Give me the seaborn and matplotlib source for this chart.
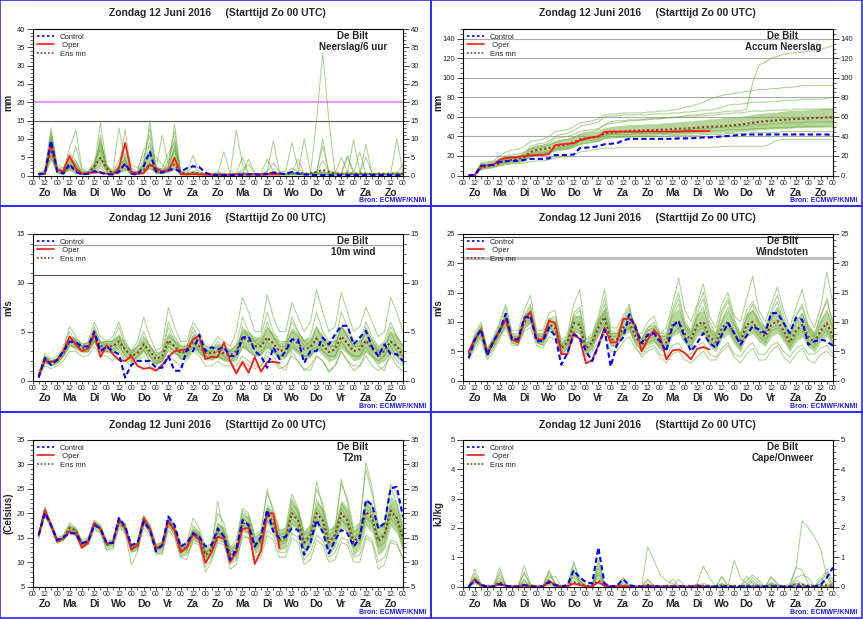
import pandas as pd
import matplotlib
matplotlib.use('Agg')
import matplotlib.pyplot as plt
import seaborn as sns
from matplotlib.lines import Line2D
from matplotlib.patches import Rectangle
from matplotlib.ticker import MultipleLocator

sns.set_theme(style='ticks')
plt.rcParams['font.family'] = ['Liberation Sans', 'DejaVu Sans']

# time axis: 6-hourly steps from +6h to +360h (15 days)
hours = list(range(6, 361, 6))
oper_hours = hours[:40]
hour_labels = ['00', '12'] * 15 + ['00']
day_names = ['Zo', 'Ma', 'Di', 'Wo', 'Do', 'Vr', 'Za', 'Zo', 'Ma', 'Di', 'Wo', 'Do', 'Vr', 'Za', 'Zo']
title = 'Zondag 12 Juni 2016     (Starttijd Zo 00 UTC)'

# ---------------- Neerslag / 6 uur (mm) ----------------
prec_control = [
    0.3, 0.5, 9.5, 1.0,  0.5, 3.2, 1.0, 0.3,  0.5, 1.2, 0.8, 0.3,  0.3, 1.0, 3.3, 0.5,  0.2, 2.5, 6.5, 1.0,
    0.8, 1.5, 1.8, 1.0,  2.0, 2.5, 2.3, 0.8,  0.2, 0.1, 0.1, 0.1,  0.2, 0.2, 0.3, 0.3,  0.2, 0.4, 0.8, 0.6,
    0.3, 1.0, 0.5, 0.3,  0.2, 0.1, 0.1, 0.1,  0.1, 0.1, 0.1, 0.1,  0.1, 0.1, 0.1, 0.1,  0.1, 0.1, 0.1, 0.1]
prec_oper = [
    0.5, 0.5, 8.5, 1.5,  1.2, 5.3, 2.0, 0.5,  0.7, 0.8, 0.9, 0.5,  0.3, 2.0, 8.9, 1.0,  0.5, 0.6, 3.0, 2.0,
    1.2, 1.2, 4.8, 0.3,  0.3, 0.4, 0.3, 0.3,  0.2, 0.2, 0.2, 0.2,  0.3, 0.3, 0.3, 0.3,  0.3, 0.3, 0.3, 0.3]
prec_ensmn = [
    0.3, 0.5, 7.0, 1.5,  1.0, 2.5, 1.5, 0.4,  0.6, 2.5, 4.8, 2.0,  0.5, 1.5, 2.8, 0.8,  0.5, 1.5, 3.0, 1.2,
    1.0, 1.5, 3.0, 0.8,  0.5, 0.7, 0.6, 0.4,  0.3, 0.3, 0.3, 0.3,  0.4, 0.4, 0.4, 0.4,  0.3, 0.5, 0.8, 0.5,
    0.4, 0.8, 0.7, 0.5,  0.6, 1.0, 1.5, 1.0,  0.6, 0.5, 0.5, 0.5,  0.5, 0.5, 0.4, 0.5,  0.5, 0.5, 0.5, 0.5]
prec_core_lo = [
    0.2, 0.3, 4.0, 0.8,  0.5, 1.5, 0.8, 0.2,  0.3, 1.2, 2.5, 0.8,  0.3, 0.8, 1.5, 0.4,  0.3, 0.8, 1.8, 0.6,
    0.5, 0.8, 1.5, 0.3,  0.1, 0.1, 0.1, 0.1,  0.1, 0.1, 0.1, 0.1,  0.1, 0.1, 0.1, 0.1,  0.1, 0.1, 0.1, 0.1,
    0.1, 0.1, 0.1, 0.1,  0.1, 0.1, 0.1, 0.1,  0.1, 0.1, 0.1, 0.1,  0.1, 0.1, 0.1, 0.1,  0.1, 0.1, 0.1, 0.1]
prec_core_hi = [
    0.5, 1.0, 11.5, 2.5,  1.5, 5.0, 4.0, 0.8,  0.8, 3.5, 9.5, 3.0,  0.8, 3.0, 5.5, 1.5,  1.0, 4.0, 7.5, 2.5,
    2.0, 3.0, 9.0, 1.2,  0.5, 1.5, 0.8, 0.5,  0.4, 0.6, 0.6, 0.4,  0.6, 0.8, 0.8, 0.6,  0.6, 0.8, 1.0, 0.7,
    0.6, 1.0, 0.9, 0.7,  0.8, 1.0, 1.2, 0.9,  0.8, 0.8, 0.8, 0.8,  0.8, 0.9, 0.8, 0.8,  0.8, 0.8, 0.9, 0.8]
prec_members = [
    [0.5, 1.0, 13.0, 2.0,  1.0, 4.0, 3.0, 0.5,  0.5, 2.0, 14.5, 3.0,  0.5, 1.0, 5.0, 1.0,  0.5, 3.0, 15.0, 2.0,
     1.0, 2.0, 14.0, 1.0,  0.5, 1.0, 0.5, 0.2,  0.2, 0.5, 0.3, 0.2,  12.5, 3.0, 0.5, 0.3,  0.2, 0.5, 0.5, 0.3,
     0.3, 0.5, 0.4, 0.2,  0.3, 0.8, 0.5, 0.3,  0.2, 0.5, 0.8, 0.3,  0.3, 0.5, 0.5, 0.3,  0.2, 0.3, 0.5, 0.3],
    [0.3, 0.8, 10.0, 1.5,  1.5, 7.5, 12.5, 2.0,  1.0, 3.0, 8.0, 2.0,  1.0, 13.0, 4.0, 1.0,  0.5, 2.0, 9.0, 2.0,
     11.0, 3.0, 7.0, 1.0,  1.0, 5.5, 1.0, 0.5,  0.3, 0.5, 6.5, 0.5,  0.3, 0.5, 0.5, 0.3,  0.5, 1.0, 9.5, 1.0,
     0.5, 0.5, 0.5, 10.0,  1.0, 0.5, 0.5, 0.5,  0.3, 0.5, 0.5, 9.8,  1.0, 0.5, 0.5, 0.3,  0.3, 0.5, 10.0, 1.0],
    [0.5, 1.5, 8.0, 1.0,  0.5, 3.0, 2.0, 1.0,  0.5, 1.0, 11.0, 1.5,  0.5, 2.0, 12.5, 1.0,  1.0, 4.0, 6.0, 0.5,
     0.5, 3.0, 10.0, 1.0,  0.3, 0.5, 0.3, 0.2,  0.2, 0.3, 0.3, 0.2,  0.3, 0.5, 4.5, 0.5,  0.3, 0.5, 0.5, 0.3,
     0.5, 0.5, 0.5, 0.5,  0.5, 15.0, 33.5, 15.0,  0.5, 0.5, 5.0, 0.5,  0.5, 5.0, 0.5, 0.5,  0.3, 0.5, 0.5, 0.5],
    [1.0, 0.5, 6.0, 1.0,  1.0, 2.0, 8.0, 1.5,  1.0, 4.0, 7.0, 2.0,  1.0, 2.5, 6.0, 3.0,  2.0, 5.0, 11.0, 2.0,
     2.0, 6.0, 9.0, 0.5,  0.5, 1.0, 0.5, 0.3,  0.5, 1.0, 0.5, 0.3,  0.5, 5.0, 0.5, 0.5,  0.5, 1.0, 3.5, 1.0,
     1.0, 9.0, 2.0, 0.5,  0.5, 1.0, 8.0, 1.0,  1.0, 0.5, 5.5, 1.0,  0.5, 8.5, 0.5, 0.5,  0.5, 0.5, 0.5, 3.0],
    [0.3, 0.5, 5.0, 0.5,  0.5, 2.0, 1.0, 0.3,  0.3, 1.5, 5.0, 1.0,  0.5, 1.0, 2.0, 0.5,  0.3, 1.0, 4.0, 5.0,
     3.0, 1.0, 5.0, 0.5,  0.2, 0.3, 0.2, 0.1,  0.1, 0.2, 0.2, 0.1,  0.2, 0.3, 0.3, 0.2,  0.2, 0.3, 0.5, 0.3,
     0.2, 0.5, 0.5, 0.3,  0.3, 0.5, 10.0, 0.5,  0.3, 0.5, 0.3, 0.3,  0.3, 0.3, 0.3, 0.3,  0.2, 0.3, 0.3, 0.3],
    [0.3, 1.0, 11.0, 2.0,  2.0, 5.0, 3.0, 1.0,  0.5, 3.0, 9.0, 3.0,  1.0, 4.0, 8.0, 2.0,  1.0, 3.0, 13.0, 1.5,
     1.0, 4.0, 12.0, 1.0,  0.5, 3.0, 0.5, 0.3,  0.3, 0.5, 0.3, 0.3,  0.3, 1.0, 0.5, 0.3,  0.3, 0.5, 1.0, 0.5,
     0.5, 1.0, 4.5, 0.5,  0.5, 0.5, 1.0, 0.5,  0.5, 0.5, 0.5, 0.5,  0.5, 0.5, 0.5, 0.5,  0.5, 0.5, 0.5, 0.5],
    [0.5, 0.5, 9.0, 1.0,  1.0, 1.5, 0.5, 0.3,  0.3, 0.5, 2.0, 0.5,  0.3, 0.5, 1.5, 0.5,  0.5, 1.0, 2.0, 1.0,
     0.5, 1.0, 2.0, 0.3,  0.2, 0.3, 0.2, 0.2,  0.2, 0.2, 0.2, 0.2,  0.2, 0.2, 0.5, 0.2,  0.2, 0.3, 0.3, 0.2,
     0.2, 0.3, 0.3, 0.2,  0.2, 0.3, 0.3, 0.2,  0.2, 0.3, 0.3, 0.2,  0.2, 0.3, 0.3, 0.2,  0.2, 0.2, 0.2, 0.2],
    [0.5, 0.5, 12.0, 3.0,  2.0, 6.0, 4.0, 1.0,  1.0, 2.5, 10.0, 2.5,  0.5, 3.0, 4.0, 1.0,  1.0, 7.0, 8.0, 1.0,
     1.5, 2.0, 8.0, 0.5,  0.3, 0.5, 0.3, 0.3,  0.3, 0.5, 0.5, 0.3,  0.5, 1.5, 3.0, 0.5,  0.5, 4.5, 1.0, 0.5,
     0.5, 2.0, 1.0, 0.5,  0.5, 1.0, 4.0, 1.0,  0.5, 5.0, 1.0, 0.5,  6.5, 0.5, 0.5, 0.5,  0.5, 0.5, 1.0, 0.5],
]

# ---------------- Accumulated precipitation (mm) ----------------
acc_control = [
    0, 0.5, 10, 10.5,  11, 14, 14.5, 15,  15, 16, 17, 17,  17, 17.5, 21, 21,  21, 21.5, 28, 28.5,
    29, 30, 32, 32.5,  33, 36, 37.5, 37.5,  37.5, 37.5, 37.5, 37.5,  37.5, 37.5, 38, 38,  38, 38.5, 39, 39,
    39.5, 40, 40.5, 41,  41.5, 42, 42, 42,  42, 42, 42, 42,  42, 42, 42, 42,  42, 42, 42, 41.5]
acc_oper = [
    0, 0.5, 9, 10.5,  11, 16, 18, 18.5,  19, 20, 20.5, 21,  21, 22, 31, 32,  32.5, 33, 36, 38,
    39, 40, 44.5, 45,  45, 45, 45, 45,  45, 45, 45, 45,  45, 45, 45, 45.5,  45.5, 45.5, 45.5, 45.5]
acc_ensmn = [
    0, 0.5, 8, 9.5,  10.5, 13, 15, 16,  17, 19, 24, 26,  27, 28, 30, 31,  32, 34, 37, 38,
    39, 40, 43, 44,  44.5, 45, 45.5, 46,  46, 46.5, 46.5, 47,  47, 47.5, 48, 48,  48.5, 49, 49.5, 50,
    50, 50.5, 51, 51.5,  52, 53, 54, 55,  55.5, 56, 56.5, 57,  57.5, 58, 58, 58.5,  59, 59, 59.5, 59.5]
acc_core_lo = [
    0, 0.4, 6.5, 7.5,  8.5, 10.5, 12, 13,  13.5, 15, 19, 21,  22, 23, 25, 26,  27, 29, 32, 33,
    34, 35, 38, 39,  39, 40, 40, 40.5,  40.5, 41, 41, 41.5,  41.5, 42, 42, 42.5,  42.5, 43, 43, 43.5,
    43.5, 44, 44, 44.5,  45, 45.5, 46, 47,  47, 47.5, 48, 48,  48.5, 49, 49, 49.5,  49.5, 49.5, 50, 50]
acc_core_hi = [
    0, 0.8, 10, 11.5,  12.5, 16, 18, 19,  20, 23, 29, 31,  32, 33, 36, 37,  38, 40, 43, 44,
    45, 46, 49, 50,  51, 51.5, 52, 52.5,  52.5, 53, 53, 53.5,  54, 54.5, 55, 55.5,  56, 56.5, 57, 58,
    58, 59, 59.5, 60,  60.5, 61.5, 62.5, 63.5,  64, 64.5, 65, 66,  66.5, 67, 67, 67.5,  68, 68.5, 69, 69]
acc_members = [
    [0, 1, 12, 13,  14, 17, 20, 21,  22, 24, 28, 30,  31, 33, 38, 39,  40, 42, 45, 46,
     47, 48, 52, 53,  54, 55, 56, 56,  57, 57, 58, 58,  59, 60, 60, 61,  62, 62, 63, 64,
     64, 65, 66, 66,  66, 68, 95, 113,  116, 120, 122, 124,  125, 126, 126, 127,  128, 129, 131, 133],
    [0, 1, 13, 14,  15, 20, 24, 26,  27, 30, 35, 36,  37, 40, 45, 46,  47, 50, 54, 55,
     56, 58, 62, 63,  63, 64, 64, 64,  64, 65, 65, 66,  66, 67, 68, 70,  71, 73, 75, 78,
     80, 82, 83, 84,  85, 86, 87, 88,  88, 89, 89, 90,  90, 91, 92, 92,  92, 92, 92, 92],
    [0, 0.5, 6, 7,  8, 10, 11, 12,  12, 13, 14, 15,  15, 16, 18, 19,  19, 21, 24, 25,
     26, 27, 28, 28,  28, 29, 29, 29,  29, 29, 29, 29,  29, 29, 29, 29,  29, 29, 29, 29,
     29, 29.5, 30, 30,  30, 30, 30, 30,  30, 33, 36, 37,  37, 37, 37, 37,  37, 37, 37, 37],
    [0, 1, 11, 12,  13, 16, 18, 19,  20, 23, 30, 32,  33, 35, 40, 42,  43, 46, 50, 52,
     53, 55, 60, 61,  61, 62, 62, 62,  62, 62, 63, 63,  63, 64, 64, 65,  65, 66, 67, 67,
     68, 70, 72, 73,  73, 74, 75, 75,  75, 76, 76, 77,  77, 77, 78, 78,  78, 78, 79, 80],
    [0, 0.5, 9, 10,  11, 14, 16, 17,  17, 18, 22, 24,  24, 25, 28, 29,  30, 32, 36, 37,
     38, 39, 42, 43,  43, 44, 44, 44,  44, 45, 45, 45,  45, 46, 46, 47,  47, 48, 48, 48,
     49, 49, 50, 50,  50, 51, 52, 52,  52, 53, 53, 54,  54, 54, 54, 55,  55, 55, 55, 55],
    [0, 0.5, 7, 8,  9, 11, 12, 13,  13, 15, 20, 22,  23, 24, 26, 27,  27, 29, 32, 33,
     34, 35, 38, 38,  39, 39, 39, 40,  40, 40, 40, 40,  40, 41, 41, 41,  41, 41, 42, 42,
     42, 42, 43, 43,  43, 43, 44, 44,  44, 44, 44, 45,  45, 45, 45, 45,  45, 45, 45, 45],
    [0, 1, 10, 11,  12, 15, 17, 18,  19, 22, 27, 28,  29, 31, 34, 36,  37, 39, 42, 44,
     45, 47, 52, 55,  56, 56, 57, 57,  57, 58, 58, 58,  59, 59, 60, 60,  60, 61, 61, 62,
     62, 63, 63, 64,  64, 65, 66, 66,  66, 67, 67, 67,  67, 68, 68, 68,  68, 68, 68, 68],
    [0, 0.5, 8, 9,  10, 12, 14, 15,  15, 17, 21, 22,  22, 23, 27, 28,  28, 31, 35, 36,
     36, 37, 41, 42,  42, 42, 42, 43,  43, 43, 43, 43,  43, 44, 44, 44,  44, 45, 45, 46,
     46, 46, 47, 47,  47, 47, 48, 48,  48, 49, 49, 49,  49, 50, 50, 50,  50, 50, 50, 50],
]

# ---------------- 10m wind (m/s) ----------------
wind_control = [
    0.3, 2.3, 1.6, 2.1,  3.0, 4.0, 3.9, 3.5,  3.5, 5.0, 3.0, 3.5,  3.0, 2.7, 0.3, 1.6,  2.0, 2.0, 2.0, 1.3,
    1.3, 2.5, 1.0, 1.0,  3.2, 3.0, 4.7, 3.0,  3.4, 3.2, 3.4, 2.5,  2.5, 4.4, 4.5, 3.0,  2.5, 1.3, 3.4, 2.2,
    3.0, 4.2, 4.2, 1.8,  3.0, 3.0, 4.4, 3.7,  4.7, 5.6, 5.6, 3.7,  4.4, 5.1, 3.4, 2.5,  3.7, 2.7, 2.7, 2.0]
wind_oper = [
    0.5, 2.0, 1.9, 2.1,  3.0, 4.5, 3.7, 3.0,  3.3, 4.8, 2.4, 3.6,  2.7, 2.1, 2.0, 2.5,  1.5, 1.2, 1.3, 1.0,
    1.6, 2.4, 3.0, 3.1,  3.2, 4.2, 4.6, 2.2,  2.4, 2.4, 3.9, 2.0,  0.7, 1.9, 0.8, 2.4,  0.9, 1.9, 1.9, 1.8]
wind_ensmn = [
    0.5, 2.2, 1.8, 2.1,  2.8, 4.0, 3.8, 3.3,  3.4, 4.6, 3.5, 3.5,  3.5, 4.0, 3.2, 2.5,  2.8, 3.7, 3.0, 2.2,
    2.5, 4.1, 3.5, 2.8,  3.0, 4.0, 3.5, 2.8,  2.8, 3.0, 2.8, 2.6,  3.0, 4.4, 4.0, 3.5,  3.5, 4.4, 3.8, 3.0,
    3.2, 4.3, 3.8, 3.2,  3.4, 4.3, 3.6, 2.9,  3.2, 4.5, 3.8, 3.0,  3.2, 4.1, 3.3, 2.6,  3.0, 4.0, 3.5, 2.5]
wind_core_lo = [
    0.4, 1.8, 1.5, 1.8,  2.4, 3.5, 3.3, 2.8,  2.9, 3.9, 2.9, 2.9,  2.8, 3.3, 2.5, 1.9,  2.2, 3.0, 2.3, 1.6,
    1.9, 3.2, 2.8, 2.1,  2.3, 3.2, 2.7, 2.1,  2.1, 2.3, 2.1, 1.9,  2.2, 3.4, 3.0, 2.5,  2.6, 3.3, 2.8, 2.1,
    2.3, 3.2, 2.7, 2.2,  2.4, 3.2, 2.6, 1.9,  2.2, 3.3, 2.7, 2.0,  2.2, 3.0, 2.3, 1.7,  2.0, 2.9, 2.4, 1.6]
wind_core_hi = [
    0.6, 2.6, 2.1, 2.4,  3.2, 4.6, 4.3, 3.8,  3.9, 5.3, 4.1, 4.1,  4.2, 4.8, 3.9, 3.1,  3.4, 4.5, 3.7, 2.8,
    3.1, 5.0, 4.3, 3.5,  3.7, 4.8, 4.3, 3.5,  3.5, 3.8, 3.5, 3.3,  3.8, 5.4, 5.0, 4.5,  4.4, 5.5, 4.8, 3.9,
    4.1, 5.4, 4.9, 4.2,  4.4, 5.4, 4.6, 3.9,  4.2, 5.7, 4.9, 4.0,  4.2, 5.2, 4.3, 3.5,  4.0, 5.1, 4.6, 3.4]
wind_members = [
    [0.8, 2.5, 2.0, 2.3,  3.5, 5.0, 4.0, 3.5,  3.5, 5.5, 4.0, 3.5,  4.0, 5.5, 3.5, 3.0,  3.5, 5.0, 3.5, 2.5,
     3.0, 6.0, 4.5, 3.5,  3.5, 5.5, 4.0, 3.0,  3.0, 4.0, 3.0, 3.0,  3.5, 6.5, 5.0, 4.0,  4.5, 7.0, 5.0, 4.0,
     4.0, 6.0, 5.0, 4.0,  4.5, 7.0, 5.0, 4.0,  4.0, 7.0, 5.5, 4.0,  4.0, 6.0, 4.5, 3.5,  4.0, 6.0, 4.5, 3.5],
    [0.3, 1.5, 1.2, 1.5,  2.0, 3.0, 3.0, 2.5,  2.5, 3.5, 2.5, 2.5,  2.0, 3.0, 2.0, 1.5,  2.0, 2.5, 1.5, 1.0,
     1.5, 2.5, 2.0, 1.5,  2.0, 3.0, 2.5, 1.5,  1.5, 2.0, 1.5, 1.5,  1.5, 2.5, 2.0, 1.5,  1.5, 2.5, 2.0, 1.2,
     1.5, 2.5, 2.0, 1.0,  1.5, 2.5, 2.0, 1.0,  1.5, 3.0, 2.0, 1.0,  1.5, 2.5, 1.5, 1.0,  1.5, 2.5, 1.5, 1.0],
    [0.5, 2.8, 2.2, 2.5,  3.0, 5.5, 4.5, 3.5,  4.0, 6.0, 4.5, 4.0,  4.5, 6.0, 4.0, 3.0,  4.0, 6.5, 4.5, 3.0,
     3.5, 7.5, 5.5, 4.0,  4.0, 6.0, 5.0, 3.5,  3.5, 4.5, 4.0, 3.5,  5.0, 8.5, 7.0, 5.0,  5.0, 8.8, 6.5, 5.0,
     5.0, 8.0, 6.5, 5.0,  6.0, 9.3, 7.0, 5.0,  5.5, 9.0, 7.0, 5.0,  5.5, 7.5, 6.0, 4.5,  5.0, 8.5, 7.0, 5.0],
    [0.4, 2.0, 1.5, 1.8,  2.5, 3.5, 3.5, 3.0,  3.0, 4.0, 3.0, 3.0,  3.0, 3.5, 2.5, 2.0,  2.5, 3.0, 2.0, 1.8,
     2.0, 3.5, 3.0, 2.2,  2.5, 4.0, 3.0, 2.2,  2.5, 2.5, 2.0, 2.0,  2.0, 3.5, 3.0, 2.5,  3.0, 3.5, 3.0, 2.5,
     2.5, 3.5, 3.0, 2.5,  2.5, 3.5, 3.0, 2.5,  2.5, 4.0, 3.0, 2.5,  2.5, 3.5, 2.5, 2.0,  2.5, 3.5, 2.5, 2.0],
    [0.6, 2.3, 1.8, 2.0,  3.0, 4.5, 4.0, 3.0,  3.0, 4.5, 3.5, 3.8,  3.5, 4.5, 3.0, 2.8,  3.5, 4.0, 2.5, 1.5,
     2.5, 5.5, 4.0, 3.0,  3.0, 4.5, 3.5, 2.5,  2.5, 3.0, 2.5, 2.5,  2.5, 5.5, 4.5, 3.5,  4.0, 6.0, 4.5, 3.5,
     3.5, 5.0, 4.5, 3.5,  4.0, 5.5, 4.0, 3.5,  3.5, 5.5, 4.5, 3.5,  3.5, 5.0, 3.5, 3.0,  3.0, 5.0, 3.5, 3.0],
    [0.4, 1.8, 1.5, 1.8,  2.5, 4.0, 3.5, 3.0,  3.2, 4.2, 3.0, 3.2,  3.2, 3.8, 2.5, 2.2,  3.0, 3.5, 2.5, 2.0,
     2.2, 3.8, 3.5, 2.8,  2.8, 3.8, 3.2, 2.8,  2.8, 3.0, 2.5, 2.0,  1.0, 2.0, 1.5, 1.2,  1.5, 3.0, 2.5, 1.5,
     1.0, 3.0, 2.0, 1.2,  1.0, 2.5, 2.0, 0.8,  1.5, 3.0, 2.0, 1.5,  1.5, 3.0, 2.5, 1.5,  1.0, 3.0, 2.0, 1.5],
    [0.5, 2.5, 2.0, 2.2,  3.2, 4.5, 4.2, 3.8,  3.8, 5.2, 3.8, 4.0,  4.0, 4.5, 3.0, 2.5,  3.5, 4.5, 3.5, 2.8,
     3.0, 4.5, 4.0, 3.5,  3.5, 5.0, 4.0, 3.0,  3.0, 3.5, 3.2, 3.0,  3.0, 5.0, 4.5, 4.0,  3.5, 5.5, 4.5, 3.5,
     3.5, 6.5, 5.0, 4.0,  3.5, 5.5, 4.5, 3.5,  3.5, 5.5, 4.5, 3.5,  3.5, 5.5, 4.0, 3.0,  3.5, 5.5, 4.5, 3.5],
    [0.3, 2.0, 1.8, 2.0,  2.8, 3.8, 3.2, 3.0,  3.0, 4.0, 2.8, 3.0,  2.8, 3.2, 2.2, 1.8,  2.5, 3.2, 2.0, 1.8,
     2.0, 3.0, 2.8, 2.5,  2.5, 3.5, 3.0, 2.5,  2.2, 2.5, 2.2, 2.0,  2.5, 4.0, 3.0, 2.5,  2.5, 4.0, 3.0, 2.5,
     2.5, 4.0, 3.0, 2.5,  2.5, 4.5, 3.0, 2.5,  2.5, 4.0, 3.0, 2.5,  2.5, 4.0, 3.0, 2.5,  2.5, 4.0, 3.0, 2.5],
]

# ---------------- Windstoten (m/s) ----------------
gust_control = [
    3.8, 7.0, 8.7, 4.3,  6.7, 8.4, 11.4, 7.0,  7.0, 10.7, 11.0, 6.7,  6.7, 9.0, 7.6, 2.7,  4.7, 7.8, 7.3, 5.0,
    3.3, 5.9, 8.7, 2.4,  6.1, 7.3, 11.3, 9.0,  6.4, 7.8, 8.1, 6.7,  5.0, 9.3, 10.1, 7.3,  5.0, 6.4, 8.1, 6.4,
    5.6, 7.8, 9.8, 8.1,  6.1, 7.6, 9.3, 8.7,  8.1, 11.5, 11.5, 9.8,  8.1, 10.7, 10.4, 6.1,  6.7, 7.0, 6.7, 5.9]
gust_oper = [
    5.0, 7.0, 8.7, 4.5,  6.5, 8.5, 10.4, 7.0,  6.5, 10.5, 11.7, 7.0,  7.0, 10.2, 9.8, 4.5,  4.5, 8.2, 7.0, 2.9,
    3.5, 6.0, 9.0, 6.5,  6.5, 10.5, 10.5, 9.5,  5.0, 7.0, 8.6, 7.5,  3.6, 5.1, 5.3, 4.7,  3.6, 5.4, 5.7, 5.3]
gust_ensmn = [
    4.5, 7.0, 8.5, 4.8,  6.5, 8.5, 10.5, 7.2,  7.0, 10.0, 11.0, 7.2,  7.0, 9.5, 9.0, 5.5,  6.5, 9.8, 9.5, 5.5,
    6.5, 9.0, 10.8, 7.0,  7.0, 9.0, 10.0, 7.5,  6.0, 7.5, 8.0, 6.5,  6.5, 9.5, 10.2, 8.0,  7.0, 9.5, 10.0, 7.5,
    6.5, 9.0, 10.0, 8.0,  6.5, 9.5, 10.0, 8.5,  7.5, 9.5, 10.2, 8.5,  6.5, 8.5, 9.5, 7.5,  6.5, 8.5, 9.8, 7.5]
gust_core_lo = [
    3.8, 6.0, 7.5, 4.0,  5.7, 7.5, 9.3, 6.3,  6.2, 8.8, 9.8, 6.3,  6.0, 8.3, 7.8, 4.6,  5.4, 8.4, 8.0, 4.5,
    5.4, 7.6, 9.1, 5.8,  5.8, 7.5, 8.4, 6.2,  4.8, 6.1, 6.5, 5.2,  5.0, 7.6, 8.1, 6.3,  5.4, 7.6, 7.9, 5.8,
    4.9, 7.1, 7.9, 6.2,  4.9, 7.5, 7.9, 6.6,  5.8, 7.5, 8.1, 6.6,  4.9, 6.6, 7.4, 5.7,  4.9, 6.6, 7.6, 5.7]
gust_core_hi = [
    5.2, 8.0, 9.5, 5.6,  7.3, 9.5, 11.7, 8.1,  7.8, 11.2, 12.2, 8.1,  8.0, 10.7, 10.2, 6.4,  7.6, 11.2, 11.0, 6.5,
    7.6, 10.4, 12.5, 8.2,  8.2, 10.5, 11.6, 8.8,  7.2, 8.9, 9.5, 7.8,  8.0, 11.4, 12.3, 9.7,  8.6, 11.4, 12.1, 9.2,
    8.1, 10.9, 12.1, 9.8,  8.1, 11.5, 12.1, 10.4,  9.2, 11.5, 12.3, 10.4,  8.1, 10.4, 11.6, 9.3,  8.1, 10.4, 12.0, 9.3]
gust_members = [
    [5.0, 7.5, 9.5, 5.5,  7.0, 9.5, 12.5, 8.0,  8.0, 11.0, 13.0, 8.0,  8.0, 10.5, 11.0, 7.0,  7.5, 11.0, 12.0, 7.0,
     7.5, 10.0, 13.0, 8.5,  8.0, 10.0, 12.0, 9.0,  7.0, 9.0, 9.5, 8.0,  8.0, 12.0, 15.0, 10.0,  8.5, 12.5, 15.0, 10.0,
     8.0, 12.0, 14.0, 10.5,  8.0, 12.0, 13.5, 11.0,  9.0, 12.0, 14.5, 11.0,  8.0, 11.0, 13.0, 9.5,  8.0, 11.0, 13.5, 10.0],
    [3.5, 5.5, 7.0, 3.5,  5.0, 7.0, 9.0, 6.0,  6.0, 8.5, 9.0, 6.0,  5.5, 7.5, 7.0, 4.5,  5.0, 7.5, 7.0, 4.0,
     5.0, 6.5, 8.0, 5.0,  5.0, 6.5, 7.5, 5.5,  4.5, 5.5, 6.0, 4.5,  4.0, 6.0, 6.5, 4.5,  4.5, 6.0, 6.5, 4.5,
     4.0, 5.5, 6.5, 4.5,  4.0, 5.5, 6.5, 4.5,  4.5, 6.0, 6.5, 5.0,  4.0, 5.5, 6.0, 4.5,  4.5, 5.5, 6.0, 4.5],
    [4.5, 8.0, 10.0, 5.0,  7.5, 10.0, 13.0, 8.5,  8.5, 12.0, 14.5, 8.5,  8.5, 11.5, 12.0, 6.0,  8.0, 13.0, 15.5, 7.0,
     8.0, 11.0, 15.5, 9.0,  9.0, 11.0, 13.0, 8.0,  8.0, 10.0, 11.0, 8.0,  9.0, 13.0, 17.5, 12.0,  10.0, 13.0, 16.5, 11.0,
     9.0, 13.0, 15.0, 11.0,  10.0, 14.0, 17.8, 12.0,  10.0, 13.0, 16.0, 12.0,  9.0, 12.5, 15.5, 11.0,  9.0, 12.5, 18.5, 13.0],
    [4.0, 6.5, 8.0, 4.5,  6.0, 8.0, 10.0, 7.0,  6.5, 9.5, 10.5, 7.0,  6.5, 9.0, 8.5, 5.0,  6.0, 9.0, 8.5, 5.0,
     6.0, 8.5, 10.0, 6.5,  6.5, 8.5, 9.5, 7.0,  5.5, 7.0, 7.5, 6.0,  6.0, 9.0, 9.5, 7.5,  6.5, 9.0, 9.5, 7.0,
     6.0, 8.5, 9.5, 7.5,  6.0, 9.0, 9.5, 8.0,  7.0, 9.0, 9.5, 8.0,  6.0, 8.0, 9.0, 7.0,  6.0, 8.0, 9.0, 7.0],
    [4.5, 7.0, 8.5, 4.5,  6.5, 8.5, 10.5, 7.0,  7.0, 10.0, 11.5, 7.0,  7.0, 9.5, 9.5, 5.5,  6.5, 10.0, 10.0, 5.0,
     6.5, 9.5, 11.5, 7.0,  6.5, 8.5, 9.0, 6.0,  4.0, 5.0, 5.5, 4.0,  3.0, 4.5, 5.0, 3.5,  3.0, 4.0, 5.0, 3.5,
     3.5, 5.0, 6.0, 4.0,  3.0, 4.5, 5.5, 3.5,  3.5, 5.0, 6.0, 4.0,  3.0, 4.5, 5.5, 3.5,  3.0, 4.5, 5.0, 4.0],
    [5.0, 7.5, 9.0, 5.0,  7.0, 9.0, 11.0, 7.5,  7.5, 10.5, 12.0, 7.5,  7.5, 10.0, 10.0, 6.0,  7.0, 10.5, 11.0, 6.0,
     7.0, 10.0, 12.0, 7.5,  7.5, 10.0, 11.5, 8.0,  6.5, 8.5, 9.0, 7.0,  7.0, 11.0, 13.0, 9.0,  7.5, 11.0, 12.5, 8.5,
     7.0, 10.0, 12.5, 9.5,  7.0, 10.5, 12.0, 9.5,  8.0, 10.5, 12.5, 9.5,  7.0, 10.0, 11.5, 8.5,  7.0, 10.0, 12.0, 9.0],
    [3.8, 6.0, 7.5, 4.0,  5.5, 7.5, 9.5, 6.5,  6.0, 9.0, 10.0, 6.5,  6.0, 8.5, 8.0, 4.5,  5.5, 8.5, 8.0, 4.5,
     5.5, 8.0, 9.5, 6.0,  6.0, 8.0, 9.0, 6.5,  5.0, 6.5, 7.0, 5.5,  5.5, 8.0, 9.0, 6.5,  6.0, 8.5, 9.0, 6.5,
     5.5, 8.0, 9.0, 7.0,  5.5, 8.5, 9.0, 7.5,  6.5, 8.5, 9.0, 7.5,  5.5, 7.5, 8.5, 6.5,  5.5, 7.5, 8.5, 6.5],
    [4.2, 7.2, 9.0, 4.8,  6.8, 9.0, 11.5, 7.5,  7.2, 10.8, 12.5, 7.8,  7.5, 10.5, 10.5, 6.5,  7.0, 11.5, 12.5, 6.5,
     7.5, 10.5, 14.0, 8.0,  8.0, 10.5, 12.5, 8.5,  7.0, 9.0, 10.0, 7.5,  7.5, 11.5, 14.0, 9.5,  8.0, 11.5, 14.0, 9.0,
     7.5, 11.5, 13.5, 10.0,  7.5, 11.0, 13.0, 10.0,  8.5, 11.5, 13.5, 10.0,  7.5, 11.0, 12.5, 9.0,  7.5, 11.0, 14.0, 9.5],
]

# ---------------- T2m (Celsius) ----------------
t2m_control = [
    15.6, 20.0, 17.6, 14.5,  15.1, 15.9, 15.9, 13.9,  14.2, 17.6, 16.9, 13.9,  13.9, 19.0, 17.3, 13.5,  13.9, 18.3, 16.6, 12.2,
    13.5, 19.3, 17.6, 13.2,  13.9, 15.9, 15.2, 13.2,  13.5, 16.9, 15.2, 10.5,  12.5, 18.6, 17.6, 13.2,  15.2, 20.7, 16.2, 14.9,
    15.2, 16.9, 16.6, 11.5,  13.9, 18.6, 16.2, 11.8,  14.5, 16.6, 15.9, 13.2,  14.9, 22.7, 21.7, 16.9,  18.0, 25.1, 25.4, 19.3]
t2m_oper = [
    15.5, 20.7, 17.5, 14.3,  14.8, 16.3, 15.8, 12.9,  14.0, 18.0, 16.8, 13.8,  14.0, 18.8, 17.0, 12.5,  13.5, 19.0, 16.8, 12.8,
    13.5, 18.5, 16.5, 12.0,  13.0, 15.7, 14.5, 9.8,  12.0, 15.2, 14.8, 10.0,  12.0, 16.8, 17.0, 9.6,  12.3, 20.0, 20.0, 12.8]
t2m_ensmn = [
    15.5, 20.3, 17.5, 14.3,  15.0, 17.0, 16.5, 13.7,  14.3, 17.8, 16.8, 13.5,  14.0, 18.2, 17.0, 12.8,  13.3, 18.5, 16.8, 12.8,
    13.3, 18.3, 16.5, 12.5,  13.0, 16.0, 15.0, 11.5,  12.5, 16.5, 15.5, 11.5,  12.5, 18.0, 17.5, 13.5,  14.5, 20.0, 18.0, 14.5,
    15.0, 20.0, 18.5, 14.0,  15.5, 20.0, 18.5, 14.0,  15.5, 20.0, 18.5, 14.0,  15.5, 20.3, 19.0, 14.3,  15.5, 20.5, 19.0, 15.0]
t2m_core_lo = [
    15.2, 19.9, 17.2, 14.0,  14.6, 16.5, 16.0, 13.2,  13.8, 17.2, 16.2, 12.9,  13.3, 17.5, 16.3, 12.0,  12.5, 17.6, 15.9, 11.8,
    12.3, 17.2, 15.4, 11.3,  11.8, 14.7, 13.7, 10.1,  11.1, 14.9, 13.9, 9.9,  10.9, 16.2, 15.7, 11.7,  12.6, 17.9, 15.9, 12.4,
    12.9, 17.7, 16.2, 11.7,  13.2, 17.5, 16.0, 11.5,  13.0, 17.3, 15.8, 11.3,  12.8, 17.4, 16.1, 11.4,  12.6, 17.4, 15.9, 11.9]
t2m_core_hi = [
    15.8, 20.7, 17.8, 14.6,  15.4, 17.5, 17.0, 14.2,  14.8, 18.4, 17.4, 14.1,  14.7, 18.9, 17.7, 13.6,  14.1, 19.4, 17.7, 13.8,
    14.3, 19.4, 17.6, 13.7,  14.2, 17.3, 16.3, 12.9,  13.9, 18.1, 17.1, 13.1,  14.1, 19.8, 19.3, 15.3,  16.4, 22.1, 20.1, 16.6,
    17.1, 22.3, 20.8, 16.3,  17.8, 22.5, 21.0, 16.5,  18.0, 22.7, 21.2, 16.7,  18.2, 23.2, 21.9, 17.2,  18.4, 23.6, 22.1, 18.1]
t2m_members = [
    [16.0, 21.3, 18.0, 15.0,  15.5, 17.5, 17.0, 14.5,  15.0, 18.5, 17.5, 14.5,  14.5, 19.0, 18.0, 13.5,  14.0, 19.5, 17.5, 13.5,
     14.0, 19.5, 17.5, 13.5,  14.0, 19.0, 17.0, 13.0,  14.0, 20.0, 18.0, 13.0,  14.5, 21.0, 20.0, 15.5,  16.5, 24.0, 21.0, 16.5,
     17.0, 24.0, 21.0, 16.0,  17.5, 25.0, 22.0, 16.5,  17.0, 26.0, 23.0, 17.0,  18.0, 29.0, 24.0, 17.0,  17.5, 26.0, 24.0, 19.0],
    [15.0, 19.5, 17.0, 13.8,  14.5, 16.0, 15.5, 13.0,  13.5, 16.5, 16.0, 12.5,  13.0, 17.0, 16.0, 12.0,  12.5, 17.0, 15.5, 11.5,
     12.0, 16.5, 15.0, 11.0,  11.5, 14.0, 13.5, 9.0,  10.5, 14.0, 13.5, 9.5,  10.5, 15.0, 15.0, 11.0,  12.0, 16.5, 15.5, 12.0,
     12.0, 16.0, 15.0, 10.5,  12.0, 15.5, 14.5, 11.0,  12.0, 15.0, 14.5, 11.0,  11.5, 15.5, 14.5, 10.0,  11.0, 14.5, 14.0, 10.5],
    [15.5, 20.5, 17.8, 14.6,  15.2, 17.5, 16.5, 14.0,  14.5, 18.0, 17.0, 13.5,  14.0, 18.5, 17.5, 13.0,  13.5, 19.0, 17.0, 13.0,
     13.5, 18.5, 17.0, 12.5,  13.0, 16.5, 15.5, 12.0,  12.5, 22.5, 16.0, 11.5,  12.0, 20.0, 19.0, 13.5,  14.0, 21.0, 19.0, 14.0,
     14.5, 22.5, 20.0, 14.0,  15.0, 23.0, 20.5, 14.5,  15.5, 22.0, 20.0, 15.0,  16.0, 22.0, 20.0, 15.0,  15.5, 21.0, 19.0, 14.5],
    [15.2, 20.0, 17.3, 14.0,  14.8, 16.5, 16.0, 13.5,  14.0, 17.5, 16.5, 13.5,  14.0, 18.0, 16.5, 12.5,  13.0, 18.0, 16.5, 12.5,
     13.0, 18.0, 16.0, 12.0,  12.5, 15.0, 14.5, 11.0,  12.0, 16.0, 15.0, 11.0,  11.5, 17.0, 16.0, 12.5,  13.5, 18.5, 17.0, 13.5,
     14.0, 18.0, 17.0, 12.5,  14.0, 18.0, 17.0, 13.0,  14.5, 18.5, 17.5, 13.0,  14.0, 19.0, 18.0, 13.0,  14.0, 19.0, 17.5, 13.0],
    [15.8, 21.0, 18.0, 14.8,  15.5, 18.0, 17.0, 14.0,  14.8, 18.5, 17.5, 14.0,  14.5, 19.0, 17.5, 13.0,  14.0, 19.5, 17.5, 13.5,
     14.0, 19.0, 17.0, 13.0,  13.5, 17.5, 16.0, 12.0,  13.0, 18.0, 16.5, 12.5,  13.5, 20.5, 19.5, 15.0,  16.0, 25.0, 20.0, 15.5,
     16.0, 23.0, 20.5, 15.5,  16.5, 26.5, 21.0, 15.5,  16.5, 27.0, 22.0, 16.0,  17.0, 30.5, 25.0, 17.5,  17.0, 25.5, 22.0, 16.0],
    [14.8, 19.8, 17.0, 14.0,  14.5, 16.0, 15.5, 13.0,  13.5, 17.0, 16.0, 12.5,  12.5, 17.5, 16.0, 9.5,  12.0, 18.0, 16.0, 12.0,
     11.5, 17.5, 15.5, 11.0,  10.5, 14.5, 14.0, 8.0,  10.0, 14.5, 14.0, 8.5,  9.5, 15.5, 15.0, 10.5,  11.0, 15.5, 14.5, 11.0,
     11.0, 15.0, 14.0, 9.5,  10.5, 14.5, 13.5, 10.0,  10.5, 14.0, 13.5, 10.0,  10.0, 15.0, 14.0, 8.5,  9.5, 14.0, 13.5, 11.0],
    [15.4, 20.5, 17.6, 14.3,  15.0, 17.0, 16.5, 13.8,  14.3, 18.0, 17.0, 13.7,  14.2, 18.5, 17.0, 13.0,  13.5, 18.8, 17.0, 13.0,
     13.5, 18.5, 16.8, 12.8,  13.2, 16.5, 15.5, 12.0,  12.8, 17.0, 16.0, 12.0,  13.0, 19.0, 18.0, 14.0,  15.0, 21.0, 18.5, 15.0,
     15.5, 21.0, 19.0, 14.5,  16.0, 21.0, 19.0, 14.5,  16.0, 21.0, 19.0, 14.5,  16.0, 21.0, 19.5, 15.0,  16.0, 21.5, 20.0, 15.5],
    [15.3, 20.2, 17.4, 14.2,  14.9, 16.8, 16.2, 13.5,  14.2, 17.6, 16.7, 13.3,  13.8, 18.0, 16.8, 12.6,  13.2, 18.4, 16.6, 12.6,
     13.2, 18.0, 16.3, 12.2,  12.8, 16.0, 15.0, 11.0,  12.0, 16.0, 15.0, 10.5,  12.0, 17.5, 17.0, 13.0,  14.0, 19.5, 17.5, 14.0,
     14.5, 19.0, 17.5, 13.5,  15.0, 19.0, 17.5, 13.5,  15.0, 19.0, 17.5, 13.0,  15.0, 19.5, 18.0, 13.5,  15.0, 20.0, 18.0, 14.0],
]

# ---------------- Cape / Onweer (kJ/kg) ----------------
cape_control = [
    0.0, 0.2, 0.05, 0.0,  0.0, 0.08, 0.02, 0.0,  0.0, 0.05, 0.0, 0.0,  0.0, 0.15, 0.05, 0.0,  0.05, 0.55, 0.3, 0.15,
    0.1, 1.33, 0.1, 0.0,  0.02, 0.25, 0.05, 0.0,  0.0, 0.0, 0.0, 0.0,  0.0, 0.0, 0.0, 0.0,  0.0, 0.0, 0.0, 0.0,
    0.0, 0.0, 0.0, 0.0,  0.0, 0.0, 0.0, 0.0,  0.0, 0.0, 0.0, 0.0,  0.0, 0.0, 0.0, 0.0,  0.0, 0.05, 0.3, 0.65]
cape_oper = [
    0.0, 0.25, 0.05, 0.0,  0.0, 0.1, 0.02, 0.0,  0.0, 0.03, 0.0, 0.0,  0.0, 0.2, 0.05, 0.0,  0.0, 0.1, 0.05, 0.0,
    0.0, 0.15, 0.02, 0.0,  0.0, 0.02, 0.0, 0.0,  0.0, 0.02, 0.0, 0.0,  0.0, 0.0, 0.0, 0.0,  0.0, 0.02, 0.0, 0.0]
cape_ensmn = [
    0.0, 0.2, 0.05, 0.0,  0.0, 0.15, 0.03, 0.0,  0.0, 0.06, 0.02, 0.0,  0.0, 0.12, 0.04, 0.0,  0.0, 0.15, 0.08, 0.02,
    0.02, 0.2, 0.05, 0.0,  0.0, 0.04, 0.0, 0.0,  0.0, 0.05, 0.02, 0.0,  0.0, 0.02, 0.02, 0.0,  0.0, 0.03, 0.03, 0.0,
    0.0, 0.03, 0.02, 0.02,  0.02, 0.03, 0.03, 0.02,  0.0, 0.03, 0.02, 0.0,  0.02, 0.08, 0.07, 0.03,  0.02, 0.03, 0.04, 0.03]
cape_members = [
    [0.0, 0.6, 0.1, 0.0,  0.0, 0.65, 0.05, 0.0,  0.0, 0.72, 0.1, 0.0,  0.0, 0.55, 0.1, 0.0,  0.0, 0.85, 0.2, 0.0,
     0.0, 0.8, 0.1, 0.0,  0.0, 0.3, 0.05, 0.0,  0.0, 1.35, 0.9, 0.4,  0.2, 0.1, 0.0, 0.0,  0.0, 0.05, 0.0, 0.0,
     0.0, 0.1, 0.0, 0.0,  0.0, 0.05, 0.0, 0.0,  0.0, 0.05, 0.0, 0.0,  0.1, 0.6, 2.25, 2.0,  1.7, 1.3, 0.3, 0.0],
    [0.0, 0.45, 0.05, 0.0,  0.0, 0.4, 0.05, 0.0,  0.0, 0.45, 0.05, 0.0,  0.0, 0.5, 0.1, 0.0,  0.0, 0.75, 0.3, 0.05,
     0.05, 0.9, 0.1, 0.0,  0.0, 0.1, 0.0, 0.0,  0.0, 0.2, 0.05, 0.0,  0.0, 0.25, 0.05, 0.0,  0.0, 0.1, 0.7, 0.3,
     0.0, 0.05, 0.0, 0.9,  0.3, 0.1, 0.0, 0.0,  0.0, 0.35, 0.1, 0.0,  0.0, 0.65, 0.55, 0.1,  0.0, 0.1, 0.3, 0.1],
    [0.0, 0.3, 0.05, 0.0,  0.0, 0.2, 0.05, 0.0,  0.0, 0.15, 0.0, 0.0,  0.0, 0.3, 0.35, 0.0,  0.0, 0.4, 0.2, 0.0,
     0.0, 0.6, 0.0, 0.0,  0.0, 0.3, 0.0, 0.0,  0.0, 0.25, 0.0, 0.0,  0.0, 0.0, 0.25, 0.0,  0.0, 0.0, 0.0, 0.0,
     0.0, 0.35, 0.0, 0.0,  0.0, 0.2, 0.4, 0.2,  0.0, 0.15, 0.0, 0.0,  0.0, 0.3, 0.4, 0.3,  0.0, 0.2, 0.6, 0.2],
    [0.0, 0.2, 0.02, 0.0,  0.0, 0.1, 0.02, 0.0,  0.0, 0.1, 0.0, 0.0,  0.0, 0.2, 0.05, 0.0,  0.0, 0.3, 0.1, 0.0,
     0.0, 0.4, 0.02, 0.0,  0.0, 0.05, 0.0, 0.0,  0.0, 0.0, 0.0, 0.0,  0.0, 0.0, 0.0, 0.0,  0.0, 0.0, 0.0, 0.0,
     0.0, 0.0, 0.0, 0.0,  0.0, 0.05, 0.3, 0.1,  0.0, 0.1, 0.05, 0.0,  0.0, 0.1, 0.05, 0.0,  0.0, 0.05, 0.0, 0.0],
    [0.0, 0.35, 0.05, 0.0,  0.0, 0.3, 0.05, 0.0,  0.0, 0.25, 0.02, 0.0,  0.0, 0.4, 0.1, 0.0,  0.0, 0.6, 0.1, 0.0,
     0.0, 0.7, 0.05, 0.0,  0.0, 0.15, 0.0, 0.0,  0.0, 0.1, 0.0, 0.0,  0.0, 0.0, 0.0, 0.0,  0.0, 0.05, 0.1, 0.05,
     0.0, 0.3, 0.05, 0.0,  0.0, 0.35, 0.1, 0.05,  0.0, 0.3, 0.05, 0.0,  0.0, 0.2, 0.1, 0.0,  0.0, 0.3, 0.1, 0.0],
    [0.0, 0.15, 0.0, 0.0,  0.0, 0.5, 0.05, 0.0,  0.0, 0.2, 0.0, 0.0,  0.0, 0.1, 0.0, 0.0,  0.0, 0.2, 0.05, 0.0,
     0.0, 0.3, 0.0, 0.0,  0.0, 0.0, 0.0, 0.0,  0.0, 0.05, 0.0, 0.0,  0.0, 0.05, 0.0, 0.0,  0.0, 0.05, 0.0, 0.0,
     0.0, 0.0, 0.0, 0.0,  0.0, 0.0, 0.0, 0.0,  0.0, 0.05, 0.0, 0.0,  0.0, 0.05, 0.0, 0.0,  0.0, 0.0, 0.0, 0.0],
    [0.0, 0.25, 0.0, 0.0,  0.0, 0.2, 0.0, 0.0,  0.0, 0.5, 0.05, 0.0,  0.0, 0.05, 0.0, 0.0,  0.0, 0.35, 0.15, 0.0,
     0.0, 0.45, 0.0, 0.0,  0.0, 0.05, 0.0, 0.0,  0.0, 0.0, 0.0, 0.0,  0.0, 0.0, 0.0, 0.0,  0.0, 0.05, 0.0, 0.0,
     0.0, 0.1, 0.0, 0.0,  0.0, 0.0, 0.2, 0.0,  0.0, 0.0, 0.0, 0.0,  0.0, 0.1, 0.0, 0.0,  0.0, 0.0, 0.05, 0.0],
    [0.0, 0.1, 0.0, 0.0,  0.0, 0.05, 0.0, 0.0,  0.0, 0.05, 0.0, 0.0,  0.0, 0.25, 0.05, 0.0,  0.0, 0.5, 0.2, 0.0,
     0.0, 0.5, 0.05, 0.0,  0.0, 0.0, 0.0, 0.0,  0.0, 0.0, 0.0, 0.0,  0.0, 0.0, 0.0, 0.0,  0.0, 0.0, 0.0, 0.0,
     0.0, 0.0, 0.0, 0.0,  0.0, 0.0, 0.0, 0.0,  0.0, 0.1, 0.0, 0.0,  0.0, 0.0, 0.0, 0.0,  0.0, 0.1, 0.5, 0.0],
]

# threshold / grid lines: (value, colour, width)
prec_refs = [(15, '#555555', 0.8), (20, '#dd9ff0', 1.6)]
acc_refs = [(20, '#aaaaaa', 0.8), (40, '#aaaaaa', 0.8), (60, '#aaaaaa', 0.8), (80, '#aaaaaa', 0.8),
            (100, '#aaaaaa', 0.8), (120, '#aaaaaa', 0.8), (140, '#aaaaaa', 0.8)]
wind_refs = [(10.85, '#555555', 0.8), (13.9, '#999999', 0.8)]
gust_refs = [(20.9, '#bbbbbb', 2.0), (24.5, '#333333', 0.8)]

MEMBER_GREEN = '#6aaa3a'
CORE_GREEN = '#78b446'
ENS_BROWN = '#8b3a2a'
FRAME_BLUE = '#2a2aff'

W, H = 863, 619
fig = plt.figure(figsize=(W / 100, H / 100), dpi=100)
fig.patch.set_facecolor('white')

panels = [
    # (col, row, members, core_lo, core_hi, control, oper, ensmn, ylim, ystep, yminor, ylabel, name, refs)
    (0, 0, prec_members, prec_core_lo, prec_core_hi, prec_control, prec_oper, prec_ensmn,
     (0, 40), 5, 1, 'mm', 'Neerslag/6 uur', prec_refs),
    (1, 0, acc_members, acc_core_lo, acc_core_hi, acc_control, acc_oper, acc_ensmn,
     (0, 150), 20, 5, 'mm', 'Accum Neerslag', acc_refs),
    (0, 1, wind_members, wind_core_lo, wind_core_hi, wind_control, wind_oper, wind_ensmn,
     (0, 15), 5, 1, 'm/s', '10m wind', wind_refs),
    (1, 1, gust_members, gust_core_lo, gust_core_hi, gust_control, gust_oper, gust_ensmn,
     (0, 25), 5, 1, 'm/s', 'Windstoten', gust_refs),
    (0, 2, t2m_members, t2m_core_lo, t2m_core_hi, t2m_control, t2m_oper, t2m_ensmn,
     (5, 35), 5, 1, '(Celsius)', 'T2m', []),
    (1, 2, cape_members, None, None, cape_control, cape_oper, cape_ensmn,
     (0, 5), 1, 0.2, 'kJ/kg', 'Cape/Onweer', []),
]

col_left = [32.5, 462.5]
row_top = [29, 234, 440]
ax_w, ax_h = 370.5, 146.5
row_edges = [0, 206, 412, 618]

for col, row, members, core_lo, core_hi, control, oper, ensmn, ylim, ystep, yminor, ylabel, name, refs in panels:
    left = col_left[col] / W
    bottom = 1 - (row_top[row] + ax_h) / H
    ax = fig.add_axes([left, bottom, ax_w / W, ax_h / H])

    for level, color, lw in refs:
        ax.axhline(level, color=color, lw=lw, zorder=1)

    # dense core of the plume
    if core_lo is not None:
        ax.fill_between(hours, core_lo, core_hi, color=CORE_GREEN, alpha=0.55, lw=0, zorder=2)

    long = pd.DataFrame({
        'hour': hours * len(members),
        'value': [v for m in members for v in m],
        'member': [i for i, m in enumerate(members) for _ in m],
    })
    sns.lineplot(data=long, x='hour', y='value', units='member', estimator=None,
                 color=MEMBER_GREEN, alpha=0.55, lw=0.75, ax=ax, legend=False, zorder=2)
    sns.lineplot(x=hours, y=ensmn, color=ENS_BROWN, lw=1.5, ls=(0, (1, 1.2)), ax=ax, zorder=3)
    sns.lineplot(x=oper_hours, y=oper, color='#ff1a1a', lw=1.3, ax=ax, zorder=4)
    sns.lineplot(x=hours, y=control, color='#0000ff', lw=1.5, ls=(0, (2.5, 1.5)), ax=ax, zorder=5)

    ax.set_xlim(0, 360)
    ax.set_xticks(range(0, 361, 12))
    ax.set_xticklabels(hour_labels)
    ax.xaxis.set_minor_locator(MultipleLocator(6))
    ax.set_ylim(*ylim)
    ax.yaxis.set_major_locator(MultipleLocator(ystep))
    ax.yaxis.set_minor_locator(MultipleLocator(yminor))
    ax.tick_params(axis='x', which='major', labelsize=5, length=2.5, width=0.6, direction='out', pad=1)
    ax.tick_params(axis='x', which='minor', length=2, width=0.5, direction='out')
    ax.tick_params(axis='y', which='major', labelsize=5.5, length=4.5, width=0.6, direction='out', pad=1)
    ax.tick_params(axis='y', which='minor', length=2.2, width=0.5, direction='out')
    ax.tick_params(axis='y', which='both', right=True, labelright=True)
    ax.tick_params(axis='x', which='both', top=False)
    for s in ax.spines.values():
        s.set_linewidth(0.8)
        s.set_color('black')
    ax.set_xlabel('')
    ax.set_ylabel(ylabel, fontsize=7, fontweight='bold')
    ax.yaxis.set_label_coords(-0.052, 0.5)

    for i, d in enumerate(day_names):
        ax.text(12 + 24 * i, -0.118, d, transform=ax.get_xaxis_transform(),
                ha='center', va='center', fontsize=7.5, fontweight='bold')

    ax.set_title(title, fontsize=7.5, fontweight='bold', pad=9)
    ax.text(0.865, 0.985, 'De Bilt\n' + name, transform=ax.transAxes, ha='center', va='top',
            fontsize=7, fontweight='bold', linespacing=1.15)

    handles = [Line2D([], [], color='#0000ff', lw=1.2, ls=(0, (1.5, 1.5))),
               Line2D([], [], color='#ff1a1a', lw=1.2),
               Line2D([], [], color=ENS_BROWN, lw=1.2, ls=(0, (1, 1.2)))]
    ax.legend(handles, ['Control', ' Oper', 'Ens mn'], loc='upper left', fontsize=5.5, frameon=False,
              handlelength=2.2, handletextpad=0.8, labelspacing=0.15, borderaxespad=0.35,
              borderpad=0.2)

    # frame around panel and source note
    x0 = (0 if col == 0 else 431) / W
    pw = 431 / W
    y1 = row_edges[row + 1]
    fig.add_artist(Rectangle((x0, 1 - y1 / H), pw, (row_edges[row + 1] - row_edges[row]) / H,
                             transform=fig.transFigure, fill=False, edgecolor=FRAME_BLUE, lw=1.2))
    fig.text(x0 + 426 / W, 1 - (y1 - 6) / H, 'Bron: ECMWF/KNMI', color='#1a1aff', fontsize=5,
             fontweight='bold', ha='right', va='center')

fig.savefig('out.png', dpi=100, facecolor='white')
